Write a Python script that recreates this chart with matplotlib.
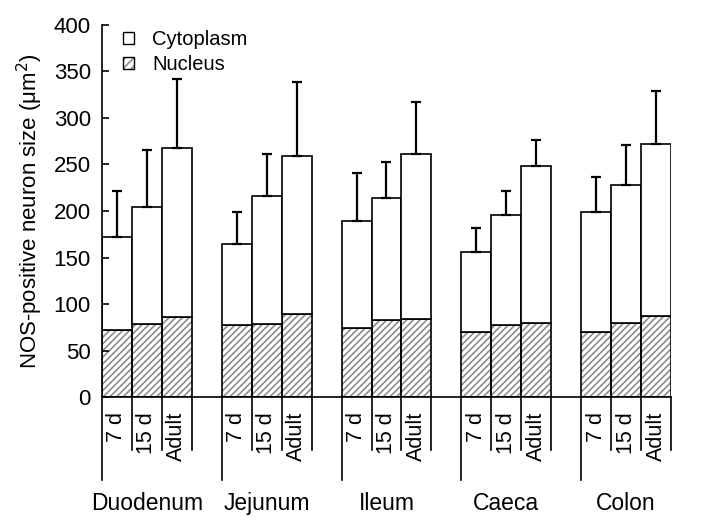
import matplotlib.pyplot as plt
import numpy as np
from matplotlib.patches import Patch

plt.rcParams['font.family'] = ['Liberation Sans', 'DejaVu Sans']
plt.rcParams['hatch.linewidth'] = 1.2

regions = ['Duodenum', 'Jejunum', 'Ileum', 'Caeca', 'Colon']
ages = ['7 d', '15 d', 'Adult']

# whole neuron size (top of bar), nucleus part and upper SD, per region x age
total = [[172, 204, 268],
         [165, 216, 259],
         [189, 214, 261],
         [156, 196, 248],
         [199, 228, 272]]
nucleus = [[72, 79, 86],
           [77, 78, 89],
           [74, 83, 84],
           [70, 77, 80],
           [70, 80, 87]]
err_top = [[221, 266, 342],
           [199, 261, 339],
           [241, 253, 317],
           [182, 221, 276],
           [237, 271, 329]]

total = np.array(total)
nucleus = np.array(nucleus)
cytoplasm = total - nucleus
err = np.array(err_top) - total

fig = plt.figure(figsize=(7.01, 5.26), dpi=100)
ax = fig.add_axes([0.1455, 0.2452, 0.8117, 0.7073])

lw = 1.2
hatch_col = '#8c8c8c'
for g in range(len(regions)):
    x = g * 4 + np.arange(3)
    # nucleus: gray hatch, then black outline
    ax.bar(x, nucleus[g], width=1, align='edge', color='white',
           edgecolor=hatch_col, hatch='/////', linewidth=0)
    ax.bar(x, nucleus[g], width=1, align='edge', fill=False,
           edgecolor='black', linewidth=lw)
    ax.bar(x, cytoplasm[g], bottom=nucleus[g], width=1, align='edge',
           color='white', edgecolor='black', linewidth=lw)
    ax.errorbar(x + 0.5, total[g], yerr=[np.zeros(3), err[g]], fmt='none',
                ecolor='black', elinewidth=1.6, capsize=3.5, capthick=1.6)

    # separators and labels under the axis
    trans = ax.get_xaxis_transform()
    ax.plot([g * 4, g * 4], [0, -0.223], color='black', lw=lw,
            transform=trans, clip_on=False)
    for k in range(1, 4):
        ax.plot([g * 4 + k, g * 4 + k], [0, -0.1425], color='black', lw=lw,
                transform=trans, clip_on=False)
    for i, a in enumerate(ages):
        ax.text(g * 4 + i + 0.5, -0.04, a, rotation=90, ha='center',
                va='top', fontsize=15.5, transform=trans)
    ax.text(g * 4 + 1.5, -0.285, regions[g], ha='center', va='center',
            fontsize=16.5, transform=trans)

ax.set_xlim(0, 19)
ax.set_ylim(0, 400)
ax.set_yticks(np.arange(0, 401, 50))
ax.set_xticks([])
ax.tick_params(axis='y', direction='in', length=5, width=lw, labelsize=16,
               pad=8)
for s in ['top', 'right']:
    ax.spines[s].set_visible(False)
ax.spines['left'].set_linewidth(lw)
ax.spines['bottom'].set_linewidth(lw)
ax.set_ylabel('NOS-positive neuron size (μm$^2$)', fontsize=16, labelpad=6)

h_cyto = Patch(facecolor='white', edgecolor='black', linewidth=1)
h_nuc_hatch = Patch(facecolor='white', edgecolor=hatch_col, hatch='////', linewidth=0)
h_nuc_edge = Patch(fill=False, edgecolor='black', linewidth=1)
ax.legend([h_cyto, (h_nuc_hatch, h_nuc_edge)], ['Cytoplasm', 'Nucleus'],
          loc='upper left', bbox_to_anchor=(0.005, 1.035), frameon=False,
          fontsize=14.5, handlelength=0.55, handleheight=0.55,
          handletextpad=0.9, labelspacing=0.3)

fig.savefig('out.png', dpi=100)
